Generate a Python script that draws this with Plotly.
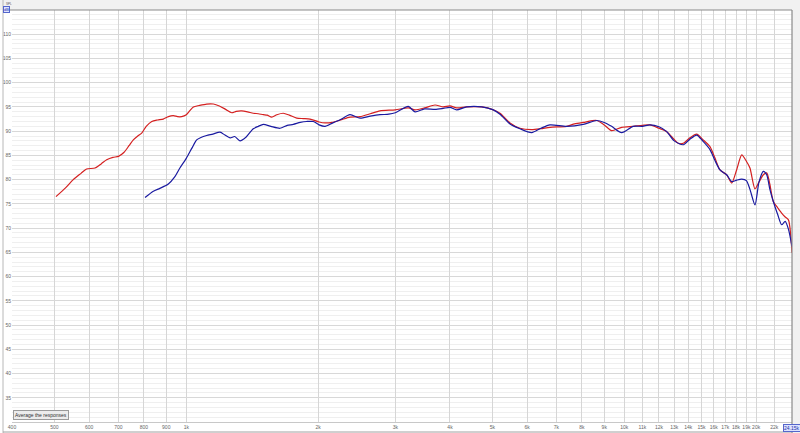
import math
import plotly.graph_objects as go

# ---------------- data ----------------
red_freq = [504, 530, 552, 575, 592, 619, 640, 658, 680, 700, 720, 740, 757, 775, 791, 810, 834, 860, 886,
            910, 934, 955, 976, 1000, 1020, 1038, 1070, 1113, 1153, 1190, 1230, 1270, 1300, 1338, 1380, 1422,
            1460, 1499, 1530, 1567, 1610, 1665, 1720, 1787, 1850, 1916, 2010, 2074, 2150, 2250, 2364, 2493,
            2630, 2768, 3000, 3213, 3328, 3500, 3697, 3860, 4000, 4143, 4366, 4728, 5023, 5203, 5483, 5779,
            6145, 6450, 6767, 7386, 7700, 8060, 8650, 9000, 9355, 9863, 10480, 11000, 11445, 12000, 12500,
            13000, 13280, 13640, 14100, 14630, 15100, 15690, 16100, 16540, 17130, 17590, 18050, 18540, 19000,
            19360, 19880, 20300, 20770, 21140, 21500, 21890, 22400, 22870, 23300, 23700, 24150]
red_spl = [76.5, 78.3, 80.0, 81.3, 82.2, 82.4, 83.3, 84.1, 84.6, 84.8, 85.6, 87.0, 88.2, 89.0, 89.6, 91.0, 92.0,
           92.3, 92.5, 93.0, 93.2, 93.0, 93.0, 93.4, 94.3, 95.0, 95.3, 95.6, 95.6, 95.2, 94.5, 93.8, 94.1, 94.2,
           94.0, 93.7, 93.6, 93.4, 93.3, 92.9, 93.4, 93.7, 93.3, 92.7, 92.6, 92.5, 91.9, 91.7, 91.8, 92.3, 92.9,
           93.0, 93.6, 94.2, 94.4, 94.8, 94.4, 94.8, 95.4, 95.0, 95.2, 94.8, 95.0, 95.0, 94.4, 93.7, 91.7, 90.6,
           90.3, 90.5, 90.8, 91.0, 91.5, 91.8, 92.2, 91.3, 90.1, 90.8, 91.0, 91.2, 91.3, 90.6, 89.9, 88.3, 87.5,
           87.5, 88.6, 89.4, 88.3, 86.8, 84.5, 82.0, 81.0, 79.3, 82.0, 85.1, 83.8, 82.4, 78.1, 79.5, 81.0, 81.4,
           79.0, 75.5, 74.2, 73.1, 72.3, 71.7, 64.9]

blue_freq = [805, 841, 870, 910, 940, 967, 1000, 1030, 1056, 1080, 1113, 1150, 1194, 1225, 1259, 1290, 1326,
             1370, 1422, 1460, 1499, 1560, 1637, 1700, 1755, 1820, 1883, 1950, 2010, 2074, 2150, 2250, 2364,
             2493, 2630, 2768, 2900, 3000, 3213, 3328, 3500, 3697, 3860, 4000, 4143, 4366, 4728, 5023, 5203,
             5483, 5779, 6145, 6450, 6767, 7386, 8060, 8650, 9000, 9355, 9863, 10480, 11000, 11445, 12000,
             12500, 13000, 13640, 14100, 14630, 15100, 15690, 16100, 16540, 17130, 17590, 18050, 18540, 19000,
             19360, 19880, 20300, 20770, 21140, 21500, 21890, 22400, 22870, 23300, 23700, 24150]
blue_spl = [76.3, 77.6, 78.2, 79.1, 80.5, 82.4, 84.4, 86.5, 88.2, 88.7, 89.1, 89.4, 89.8, 89.2, 88.6, 88.9, 88.0,
            88.8, 90.5, 91.0, 91.4, 91.0, 90.6, 91.2, 91.4, 91.8, 92.0, 92.0, 91.3, 91.0, 91.6, 92.4, 93.4, 92.7,
            93.1, 93.4, 93.5, 93.8, 95.1, 94.0, 94.6, 94.5, 94.7, 94.9, 94.4, 95.0, 95.0, 94.4, 93.5, 91.5, 90.5,
            89.7, 90.6, 91.3, 91.0, 91.4, 92.2, 91.8, 91.0, 89.7, 91.0, 91.0, 91.3, 90.9, 89.9, 88.0, 87.2, 88.3,
            89.2, 88.0, 86.2, 84.0, 82.0, 81.0, 79.6, 79.9, 80.1, 79.8, 78.0, 74.8, 79.5, 81.7, 81.0, 78.0, 75.5,
            72.8, 70.7, 71.4, 69.8, 66.2]

x_tick_vals = [400, 500, 600, 700, 800, 900, 1000, 2000, 3000, 4000, 5000, 6000, 7000, 8000, 9000, 10000,
               11000, 12000, 13000, 14000, 15000, 16000, 17000, 18000, 19000, 20000, 22000]
x_tick_text = ["400", "500", "600", "700", "800", "900", "1k", "2k", "3k", "4k", "5k", "6k", "7k", "8k", "9k",
               "10k", "11k", "12k", "13k", "14k", "15k", "16k", "17k", "18k", "19k", "20k", "22k"]
x_strong_grid = [1000, 10000]
x_min, x_max = 400, 24150
x_max_label = "24.15k"
y_min, y_max = 30, 115
y_tick_vals = [35, 40, 45, 50, 55, 60, 65, 70, 75, 80, 85, 90, 95, 100, 105, 110]
y_label = "SPL"
y_unit = "dB"
button_text = "Average the responses"

# ---------------- figure ----------------
W, H = 800, 433
ML, MR, MT, MB = 12, 8, 10, 11
PW, PH = W - ML - MR, H - MT - MB

fig = go.Figure()
fig.add_trace(go.Scatter(x=red_freq, y=red_spl, mode="lines",
                         line=dict(color="#d42020", width=1.2, shape="spline", smoothing=0.7),
                         hoverinfo="skip", showlegend=False))
fig.add_trace(go.Scatter(x=blue_freq, y=blue_spl, mode="lines",
                         line=dict(color="#1a1aa0", width=1.2, shape="spline", smoothing=0.7),
                         hoverinfo="skip", showlegend=False))

shapes = []
for f in x_strong_grid:
    shapes.append(dict(type="line", xref="x", yref="paper", x0=math.log10(f), x1=math.log10(f), y0=0, y1=1,
                       line=dict(color="#b4b4b4", width=1), layer="below"))
shapes.append(dict(type="rect", xref="paper", yref="paper", x0=-ML / PW, x1=1 + MR / PW, y0=1, y1=1 + MT / PH,
                   fillcolor="#f1f1f1", line=dict(width=0), layer="below"))
shapes.append(dict(type="rect", xref="paper", yref="paper", x0=1, x1=1 + MR / PW, y0=-MB / PH, y1=1,
                   fillcolor="#f1f1f1", line=dict(width=0), layer="below"))
shapes.append(dict(type="line", xref="paper", yref="paper", x0=-9 / PW, x1=1, y0=1, y1=1,
                   line=dict(color="#8a8a8a", width=1.2)))
shapes.append(dict(type="line", xref="paper", yref="paper", x0=1, x1=1, y0=-MB / PH, y1=1,
                   line=dict(color="#8a8a8a", width=1.2)))
shapes.append(dict(type="line", xref="paper", yref="paper", x0=-9 / PW, x1=-9 / PW, y0=-MB / PH, y1=1 + MT / PH,
                   line=dict(color="#b8b8b8", width=1)))
shapes.append(dict(type="line", xref="paper", yref="paper", x0=-9 / PW, x1=1, y0=-(MB - 1) / PH, y1=-(MB - 1) / PH,
                   line=dict(color="#a0a0a0", width=1)))

annotations = [
    dict(text=y_label, xref="paper", yref="paper", x=-8 / PW, y=1 + 10 / PH, xanchor="left", yanchor="top",
         showarrow=False, font=dict(size=3, color="#555")),
    dict(text=y_unit, xref="paper", yref="paper", x=-9 / PW, y=1 + 4 / PH, xanchor="left", yanchor="top",
         showarrow=False, font=dict(size=4, color="#2233aa"), bgcolor="#dde3ff", bordercolor="#5566cc",
         borderwidth=1, borderpad=0),
    dict(text=button_text, xref="paper", yref="paper", x=1 / PW, y=2 / PH, xanchor="left", yanchor="bottom",
         showarrow=False, font=dict(size=5, color="#333"), bgcolor="#ececec", bordercolor="#9a9a9a",
         borderwidth=1, borderpad=1),
    dict(text=x_max_label, xref="paper", yref="paper", x=1, y=-2 / PH, xanchor="center", yanchor="top",
         showarrow=False, font=dict(size=5, color="#2233aa"), bgcolor="#dde3ff", bordercolor="#5566cc",
         borderwidth=1, borderpad=0),
]

fig.update_layout(
    width=W, height=H,
    margin=dict(l=ML, r=MR, t=MT, b=MB, autoexpand=False),
    paper_bgcolor="white", plot_bgcolor="white",
    shapes=shapes, annotations=annotations,
    font=dict(family="Liberation Sans, Arial, sans-serif", size=5, color="#666"),
    xaxis=dict(type="log", range=[math.log10(x_min), math.log10(x_max)], tickmode="array",
               tickvals=x_tick_vals, ticktext=x_tick_text, tickangle=0, showgrid=True, gridcolor="#d6d6d6",
               gridwidth=1, zeroline=False, showline=True, linecolor="#c8c8c8", linewidth=1, ticks="", ticklen=0,
               tickfont=dict(size=5, color="#666"), automargin=False, fixedrange=True),
    yaxis=dict(range=[y_min, y_max], tickmode="array", tickvals=y_tick_vals, showgrid=True, gridcolor="#d8d8d8",
               gridwidth=1, zeroline=False, showline=False, ticks="", ticklen=0,
               tickfont=dict(size=5, color="#666"), automargin=False, fixedrange=True,
               minor=dict(dtick=1, showgrid=True, gridcolor="#efefef", gridwidth=1)),
)

fig.write_html("out.html", config={"displayModeBar": False},
               post_script="document.body.style.margin='0px';document.body.style.overflow='hidden';")
